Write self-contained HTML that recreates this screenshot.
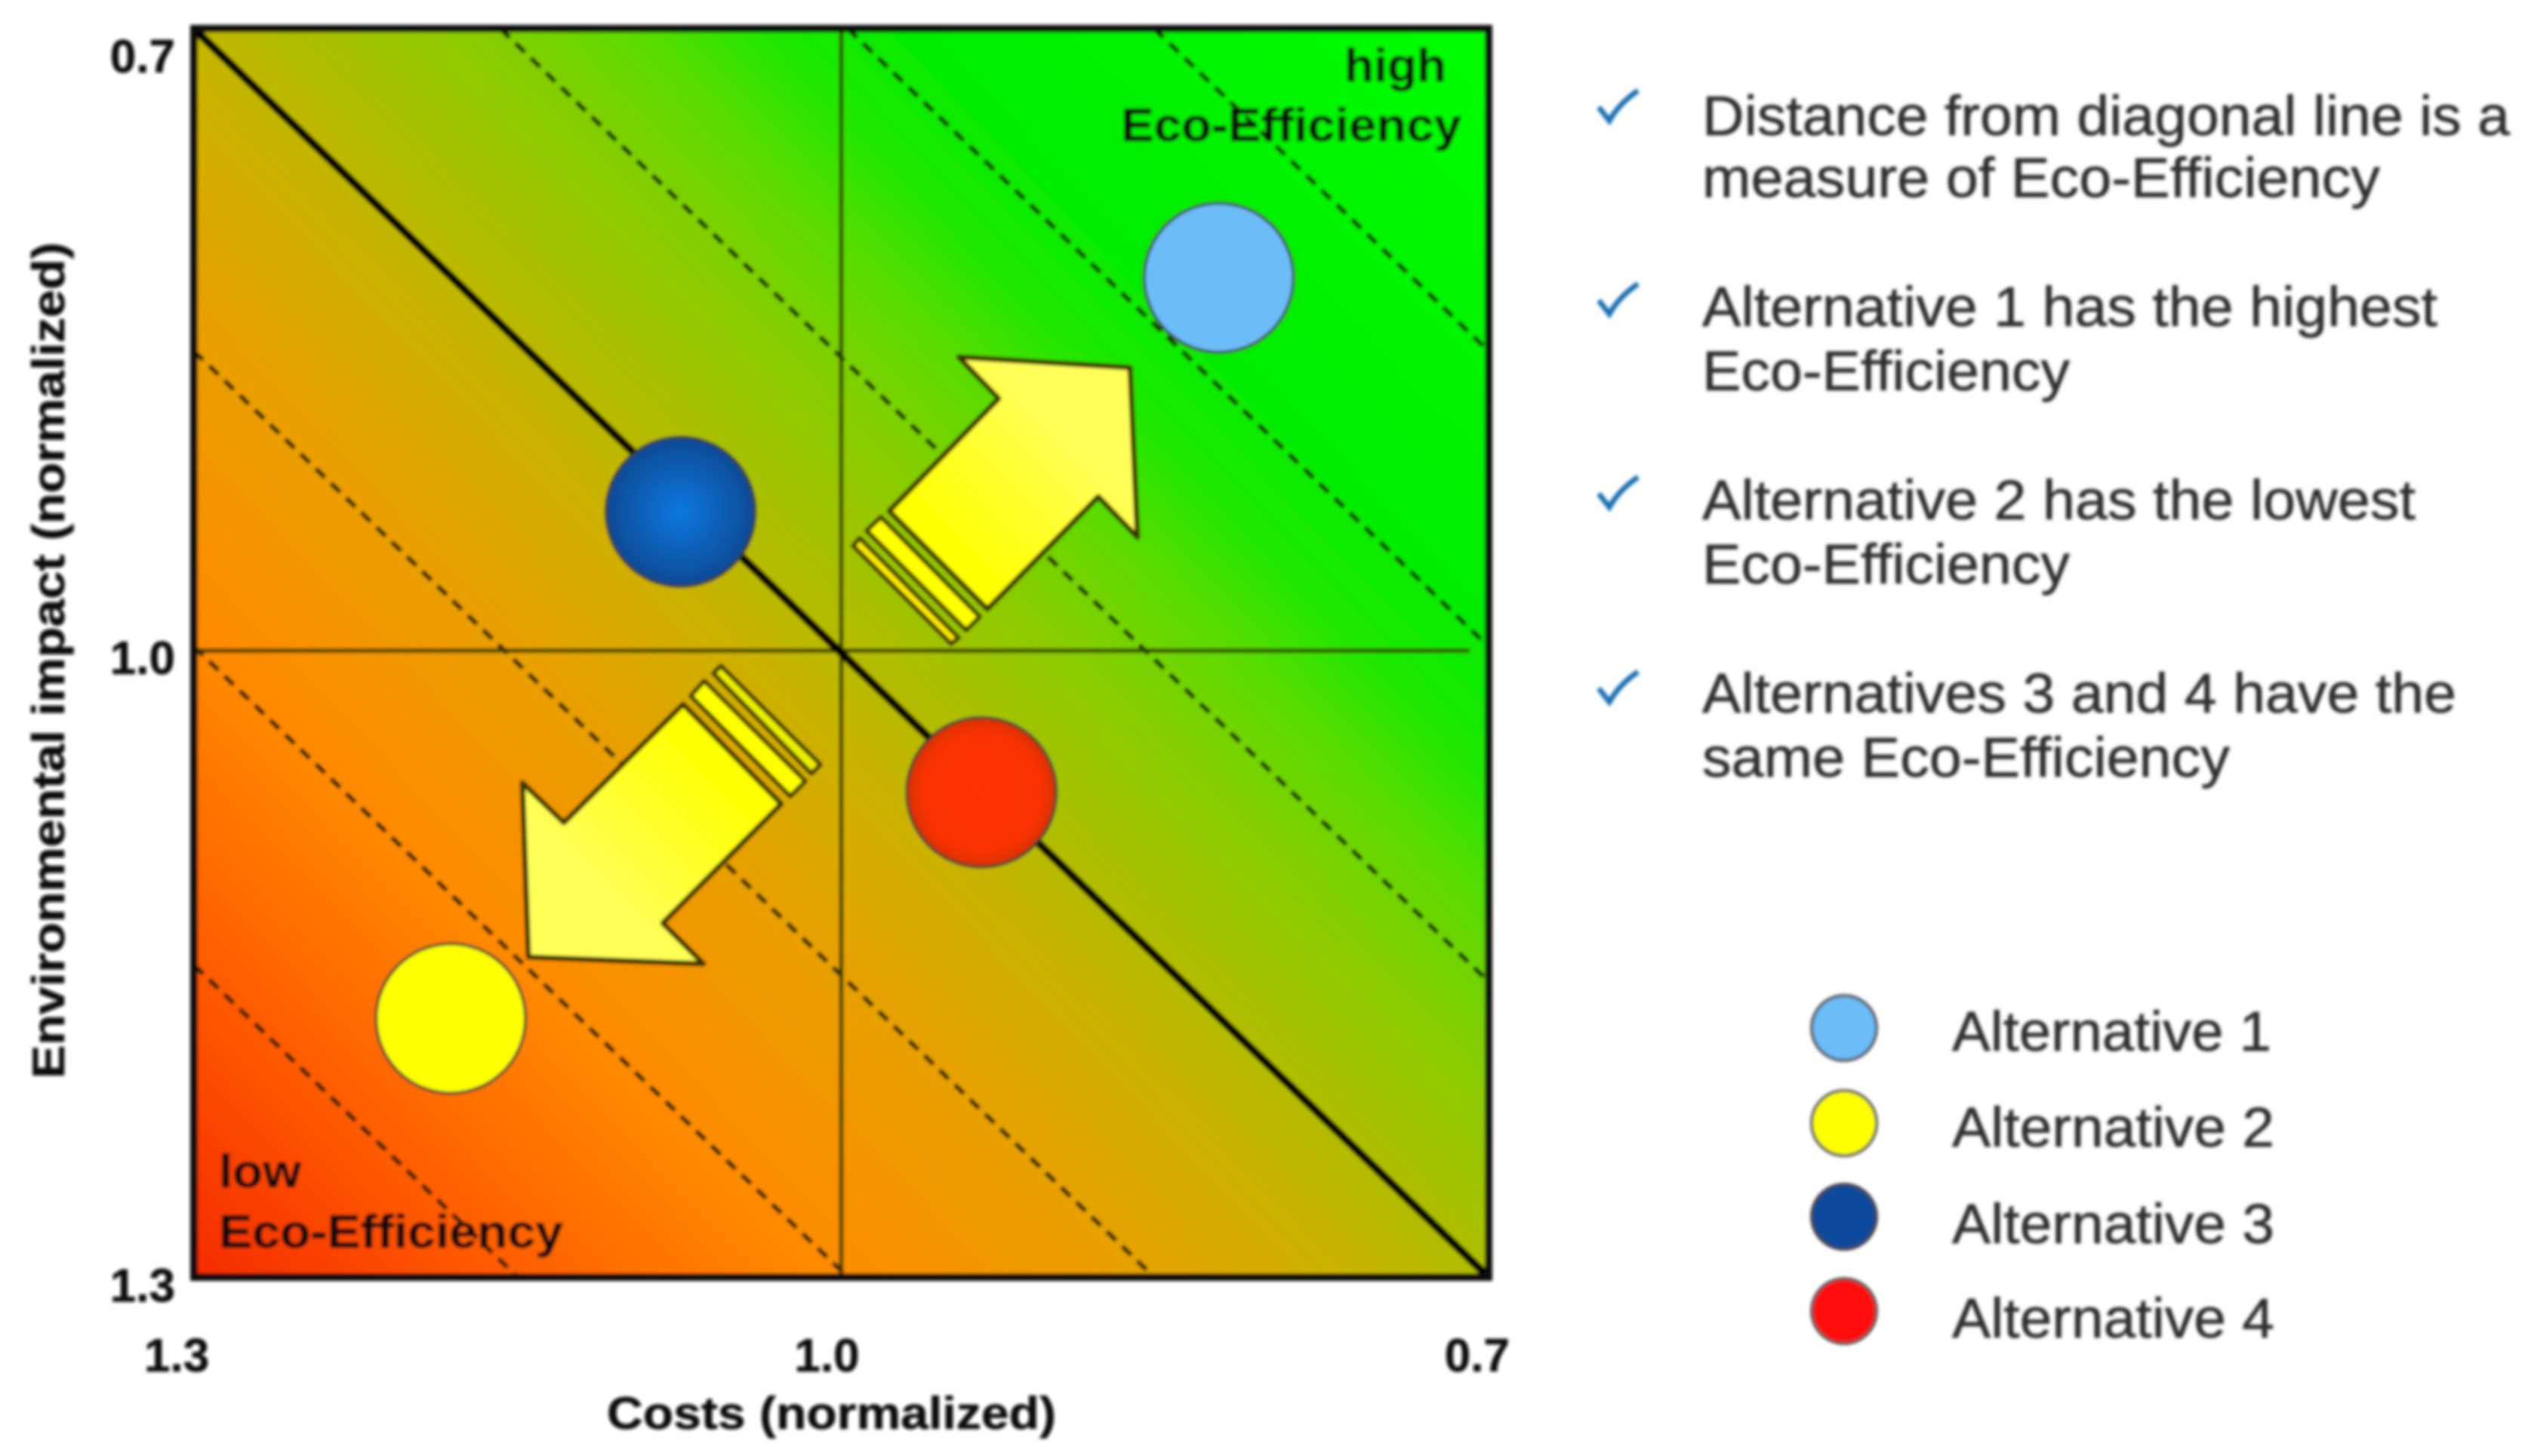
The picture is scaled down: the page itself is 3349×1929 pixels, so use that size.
<!DOCTYPE html>
<html lang="en">
<head>
<meta charset="utf-8">
<title>Eco-Efficiency portfolio</title>
<style>
html,body{margin:0;padding:0;background:#fff;width:3349px;height:1929px;overflow:hidden}
svg{display:block}
text{font-family:"Liberation Sans",sans-serif}
.b{font-weight:bold;fill:#111;stroke:#111;stroke-width:0.6px}
.r{fill:#2e2e2e;stroke:#2e2e2e;stroke-width:0.7px}
</style>
</head>
<body>
<svg id="chart" xmlns="http://www.w3.org/2000/svg" width="3349" height="1929" viewBox="0 0 3349 1929">
<defs>
<linearGradient id="bg" gradientUnits="userSpaceOnUse" x1="257" y1="1692" x2="1972" y2="38">
<stop offset="0" stop-color="#f52a00"/>
<stop offset="0.125" stop-color="#ff5c00"/>
<stop offset="0.25" stop-color="#ff8a00"/>
<stop offset="0.375" stop-color="#e8a000"/>
<stop offset="0.46" stop-color="#ccb200"/>
<stop offset="0.52" stop-color="#aebe00"/>
<stop offset="0.6" stop-color="#84ce00"/>
<stop offset="0.66" stop-color="#58dc00"/>
<stop offset="0.71" stop-color="#20e800"/>
<stop offset="0.76" stop-color="#06ec00"/>
<stop offset="1" stop-color="#00ff00"/>
</linearGradient>
<radialGradient id="g3" cx="0.5" cy="0.5" r="0.5"><stop offset="0" stop-color="#0a78e0"/><stop offset="1" stop-color="#0a4a94"/></radialGradient>
<radialGradient id="g4" cx="0.5" cy="0.5" r="0.5"><stop offset="0" stop-color="#ff3200"/><stop offset="0.8" stop-color="#f83000"/><stop offset="1" stop-color="#d83000"/></radialGradient>
<linearGradient id="a1" x1="0" y1="1" x2="1" y2="0"><stop offset="0.25" stop-color="#ffff00"/><stop offset="0.7" stop-color="#ffff58"/></linearGradient>
<linearGradient id="a2" x1="1" y1="0" x2="0" y2="1"><stop offset="0.25" stop-color="#ffff00"/><stop offset="0.7" stop-color="#ffff58"/></linearGradient>
<filter id="soft" x="-2%" y="-2%" width="104%" height="104%"><feGaussianBlur stdDeviation="2"/></filter>
</defs>
<g filter="url(#soft)">
<rect x="257" y="38" width="1715" height="1654" fill="url(#bg)"/>
<g id="marks"></g>
<g id="arrows-layer"></g>
<g id="points"></g>

<text class="b" x="1781" y="108" font-size="62" textLength="135" lengthAdjust="spacingAndGlyphs">high</text>
<text class="b" x="1485" y="187" font-size="62" textLength="451" lengthAdjust="spacingAndGlyphs">Eco-Efficiency</text>
<text class="b" x="290" y="1573" font-size="62" textLength="109" lengthAdjust="spacingAndGlyphs">low</text>
<text class="b" x="290" y="1653" font-size="62" textLength="456" lengthAdjust="spacingAndGlyphs">Eco-Efficiency</text>

<g id="ticks"></g>
<text class="b" x="804" y="1893" font-size="60" textLength="595" lengthAdjust="spacingAndGlyphs">Costs (normalized)</text>
<text class="b" transform="translate(85 1429) rotate(-90)" font-size="60" textLength="1108" lengthAdjust="spacingAndGlyphs">Environmental impact (normalized)</text>

<path d="M2118 142 L2132 160 Q2145 137 2170 120" fill="none" stroke="#1a6fb0" stroke-width="7"/>
<path d="M2118 398 L2132 416 Q2145 393 2170 376" fill="none" stroke="#1a6fb0" stroke-width="7"/>
<path d="M2118 654 L2132 672 Q2145 649 2170 632" fill="none" stroke="#1a6fb0" stroke-width="7"/>
<path d="M2118 912 L2132 930 Q2145 907 2170 890" fill="none" stroke="#1a6fb0" stroke-width="7"/>

<text class="r" x="2255" y="179" font-size="74" textLength="1070" lengthAdjust="spacingAndGlyphs">Distance from diagonal line is a</text>
<text class="r" x="2255" y="261" font-size="74" textLength="898" lengthAdjust="spacingAndGlyphs">measure of Eco-Efficiency</text>
<text class="r" x="2255" y="432" font-size="74" textLength="974" lengthAdjust="spacingAndGlyphs">Alternative 1 has the highest</text>
<text class="r" x="2255" y="517" font-size="74" textLength="487" lengthAdjust="spacingAndGlyphs">Eco-Efficiency</text>
<text class="r" x="2255" y="688" font-size="74" textLength="945" lengthAdjust="spacingAndGlyphs">Alternative 2 has the lowest</text>
<text class="r" x="2255" y="773" font-size="74" textLength="487" lengthAdjust="spacingAndGlyphs">Eco-Efficiency</text>
<text class="r" x="2255" y="944" font-size="74" textLength="999" lengthAdjust="spacingAndGlyphs">Alternatives 3 and 4 have the</text>
<text class="r" x="2255" y="1029" font-size="74" textLength="699" lengthAdjust="spacingAndGlyphs">same Eco-Efficiency</text>

<circle cx="2443" cy="1362" r="43" fill="#6cbcf8" stroke="#555" stroke-width="4"/>
<circle cx="2443" cy="1488" r="43" fill="#ffff00" stroke="#555" stroke-width="4"/>
<circle cx="2443" cy="1612" r="43" fill="#0a4a9c" stroke="#444" stroke-width="4"/>
<circle cx="2443" cy="1737" r="43" fill="#ff0a0a" stroke="#555" stroke-width="4"/>
<text class="r" x="2586" y="1392" font-size="74" textLength="423" lengthAdjust="spacingAndGlyphs">Alternative 1</text>
<text class="r" x="2586" y="1519" font-size="74" textLength="427" lengthAdjust="spacingAndGlyphs">Alternative 2</text>
<text class="r" x="2586" y="1647" font-size="74" textLength="427" lengthAdjust="spacingAndGlyphs">Alternative 3</text>
<text class="r" x="2586" y="1772" font-size="74" textLength="427" lengthAdjust="spacingAndGlyphs">Alternative 4</text>
</g>
</svg>
<script>
var categories = ["Alternative 1", "Alternative 2", "Alternative 3", "Alternative 4"];
var costs = [0.825, 1.181, 1.0745, 0.935];
var impacts = [0.8197, 1.1757, 0.9322, 1.067];
var fills = ["#6cbcf8", "#ffff00", "url(#g3)", "url(#g4)"];
var isoSums = [1.555, 1.697, 1.858, 2.155, 2.297, 2.45];
var paritySum = [2.0];
var xTicks = [1.3, 1.0, 0.7];
var yTicks = [0.7, 1.0, 1.3];
var tickLabels = ["1.3", "1.0", "0.7"];
var yTickLabels = ["0.7", "1.0", "1.3"];

var L = 257, R = 1972, T = 38, B = 1692;
var NS = "http://www.w3.org/2000/svg";
function xScale(c) { return L + (1.3 - c) / 0.6 * (R - L); }
function yScale(v) { return T + (v - 0.7) / 0.6 * (B - T); }
function mk(tag, attrs, parent) {
  var e = document.createElementNS(NS, tag);
  for (var k in attrs) e.setAttribute(k, attrs[k]);
  parent.appendChild(e);
  return e;
}
function isoEnds(s) {
  var c0 = Math.min(1.3, s - 0.7), v0 = s - c0;
  var c1 = Math.max(0.7, s - 1.3), v1 = s - c1;
  return { x1: xScale(c0), y1: yScale(v0), x2: xScale(c1), y2: yScale(v1) };
}
var marks = document.getElementById("marks");
var ticks = document.getElementById("ticks");
var points = document.getElementById("points");
var arrowsLayer = document.getElementById("arrows-layer");

isoSums.forEach(function (s) {
  var p = isoEnds(s);
  var ln = mk("line", { x1: p.x1, y1: p.y1, x2: p.x2, y2: p.y2, stroke: "#142000", "stroke-width": 6, "stroke-dasharray": "17 11" }, marks);
  
  
});

var vLine = mk("line", { x1: xScale(1), y1: T, x2: xScale(1), y2: B, stroke: "#333a00", "stroke-width": 6, opacity: 0.85 }, marks);



var hLine = mk("line", { x1: L, y1: yScale(1) - 3, x2: R - 25, y2: yScale(1) - 3, stroke: "#333a00", "stroke-width": 6, opacity: 0.85 }, marks);



var dp = isoEnds(paritySum[0]);
var diag = mk("line", { x1: dp.x1, y1: dp.y1, x2: dp.x2, y2: dp.y2, stroke: "#000", "stroke-width": 11 }, marks);



var frame = mk("rect", { x: L, y: T, width: R - L, height: B - T, fill: "none", stroke: "#0a0a0a", "stroke-width": 10 }, marks);



function poly(pts, fill, parent, sw) {
  return mk("polygon", { points: pts, fill: fill, stroke: "#3a3000", "stroke-width": sw, "stroke-linejoin": "round" }, parent);
}
var up = poly("1270,473 1497,487 1507,712 1455,658 1308,807 1178,677 1323,528", "url(#a1)", arrowsLayer, 7);


var upS1 = poly("1167,685 1148,703 1280,835 1298,817", "#ffff00", arrowsLayer, 6);


var upS2 = poly("1139,713 1130,723 1260,853 1270,845", "#ffee00", arrowsLayer, 6);


var down = poly("692,1037 747,1090 905,933 1035,1065 878,1223 932,1277 700,1268", "url(#a2)", arrowsLayer, 7);


var downS1 = poly("933,902 915,922 1047,1055 1067,1035", "#ffff00", arrowsLayer, 6);


var downS2 = poly("955,882 945,892 1075,1025 1087,1013", "#eeee00", arrowsLayer, 6);



categories.forEach(function (cat, i) {
  var c = mk("circle", { cx: xScale(costs[i]), cy: yScale(impacts[i]), r: 99, fill: fills[i], stroke: "#3a4030", "stroke-width": 4 }, points);
  
  
});

xTicks.forEach(function (v, i) {
  var t = mk("text", { x: xScale(v) - 19 + (1 - v) * 13, y: 1817, "text-anchor": "middle", "font-size": 62, "class": "b" }, ticks);
  t.textContent = tickLabels[i];
  
  
});
yTicks.forEach(function (v, i) {
  var t = mk("text", { x: 232, y: Math.max(yScale(v) + 28 + (v - 1) * 15, 96), "text-anchor": "end", "font-size": 62, "class": "b" }, ticks);
  t.textContent = yTickLabels[i];
  
  
});
</script>
</body>
</html>
